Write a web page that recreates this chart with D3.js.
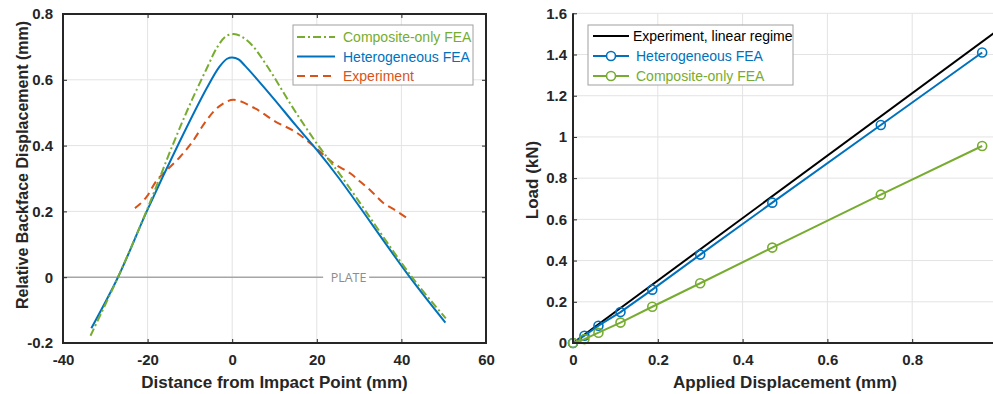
<!DOCTYPE html>
<html lang="en">
<head>
<meta charset="UTF-8">
<title>Backface displacement and load</title>
<script src="https://d3js.org/d3.v7.min.js"></script>
<style>
    body { margin: 0; background: #fff; }
    svg { display: block; font-family: "Liberation Sans", Arial, sans-serif; }
    .tick text { font-weight: bold; font-size: 15px; fill: #262626; }
    .tick line { stroke: #262626; stroke-width: 1; }
    .axis-label { font-weight: bold; font-size: 17px; fill: #262626; }
    .legend text { font-size: 14px; }
</style>
</head>
<body>
<svg width="993" height="394"></svg>
<script>
    // ---- left panel: backface displacement along the plate ----
    const compX = [-33.5, -27, -20.3, -13.9, -10, -6, -3.5, -1.5, 0.3, 2, 4.7, 8.6, 14.1, 19.8, 25.9, 42.5, 50.5];
    const compY = [-0.178, 0, 0.2, 0.407, 0.525, 0.635, 0.7, 0.732, 0.739, 0.733, 0.705, 0.635, 0.52, 0.41, 0.305, 0, -0.125];

    const heteroX = [-33.3, -27, -20.2, -12.5, -6, -3, -1.2, 0, 1.5, 3, 6, 10, 15, 20, 25.3, 42, 50.4];
    const heteroY = [-0.155, 0, 0.2, 0.41, 0.575, 0.64, 0.664, 0.668, 0.662, 0.643, 0.6, 0.54, 0.462, 0.387, 0.3, 0, -0.138];

    const expX = [-23, -22, -20.2, -17.8, -15.4, -12.3, -9.5, -6, -3, 0.3, 5.4, 10.2, 14.9, 19.4, 24, 27.9, 30.3, 33, 35.8, 38.5, 41.5];
    const expY = [0.21, 0.22, 0.245, 0.295, 0.326, 0.366, 0.41, 0.478, 0.52, 0.539, 0.513, 0.473, 0.442, 0.397, 0.346, 0.316, 0.29, 0.26, 0.225, 0.204, 0.178];

    const distTicks = [-40, -20, 0, 20, 40, 60];
    const backTicks = [-0.2, 0, 0.2, 0.4, 0.6, 0.8];

    // ---- right panel: load vs applied displacement ----
    const appliedDisp = [0, 0.027, 0.060, 0.112, 0.187, 0.300, 0.470, 0.726, 0.965];
    const heteroLoad = [0, 0.035, 0.084, 0.150, 0.259, 0.429, 0.681, 1.058, 1.41];
    const compLoad = [0, 0.019, 0.050, 0.099, 0.176, 0.290, 0.463, 0.720, 0.956];
    const linDisp = [0, 1];
    const linLoad = [0, 1.515];

    const appliedTicks = [0, 0.2, 0.4, 0.6, 0.8];
    const loadTicks = [0, 0.2, 0.4, 0.6, 0.8, 1, 1.2, 1.4, 1.6];

    const blue = "#0072BD", green = "#77AC30", orange = "#D95319";
    const gridColor = "#e3e3e3";

    let svg = d3.select("svg");
    const fmt = d => String(d);
    const zip = (a, b) => a.map((v, i) => [v, b[i]]);

    // ================= LEFT =================
    let xL = d3.scaleLinear().domain([-40, 60]).range([63, 486]);
    let yL = d3.scaleLinear().domain([-0.2, 0.8]).range([343, 14]);

    let gL = svg.append("g");

    gL.append("g").selectAll("line")
        .data(distTicks.slice(1, -1))
        .join("line")
        .attr("x1", d => xL(d)).attr("x2", d => xL(d))
        .attr("y1", yL(-0.2)).attr("y2", yL(0.8))
        .attr("stroke", gridColor);
    gL.append("g").selectAll("line")
        .data(backTicks.filter(d => d !== 0))
        .join("line")
        .attr("x1", xL(-40)).attr("x2", xL(60))
        .attr("y1", d => yL(d)).attr("y2", d => yL(d))
        .attr("stroke", gridColor);

    // plate reference line with label
    gL.append("line")
        .attr("x1", xL(-40)).attr("x2", xL(60))
        .attr("y1", yL(0)).attr("y2", yL(0))
        .attr("stroke", "#a6a6a6").attr("stroke-width", 1.5);
    gL.append("rect")
        .attr("x", xL(21.5)).attr("y", yL(0) - 8)
        .attr("width", 46).attr("height", 16)
        .attr("fill", "#fff");
    gL.append("text")
        .attr("x", xL(27.5)).attr("y", yL(0) + 4.5)
        .attr("text-anchor", "middle")
        .style("font-family", "'Open Sans', 'Noto Sans', sans-serif")
        .style("font-size", "12.5px")
        .attr("fill", "#8c8c8c")
        .text("PLATE");

    let lineL = d3.line().x(d => xL(d[0])).y(d => yL(d[1])).curve(d3.curveCatmullRom.alpha(0.5));

    gL.append("path").datum(zip(expX, expY))
        .attr("d", lineL).attr("fill", "none")
        .attr("stroke", orange).attr("stroke-width", 2)
        .attr("stroke-dasharray", "8,5");
    gL.append("path").datum(zip(heteroX, heteroY))
        .attr("d", lineL).attr("fill", "none")
        .attr("stroke", blue).attr("stroke-width", 2);
    gL.append("path").datum(zip(compX, compY))
        .attr("d", lineL).attr("fill", "none")
        .attr("stroke", green).attr("stroke-width", 2)
        .attr("stroke-dasharray", "8,3,2,3");

    // axes with inward ticks on all four sides
    gL.append("g").attr("transform", "translate(0,343)")
        .call(d3.axisBottom(xL).tickValues(distTicks).tickSize(-4).tickPadding(11).tickFormat(fmt))
        .call(g => g.select(".domain").remove());
    gL.append("g").attr("transform", "translate(0,14)")
        .call(d3.axisTop(xL).tickValues(distTicks).tickSize(-4).tickFormat(""))
        .call(g => g.select(".domain").remove());
    gL.append("g").attr("transform", "translate(63,0)")
        .call(d3.axisLeft(yL).tickValues(backTicks).tickSize(-4).tickPadding(10).tickFormat(fmt))
        .call(g => g.select(".domain").remove());
    gL.append("g").attr("transform", "translate(486,0)")
        .call(d3.axisRight(yL).tickValues(backTicks).tickSize(-4).tickFormat(""))
        .call(g => g.select(".domain").remove());

    gL.append("rect")
        .attr("x", 63).attr("y", 14).attr("width", 423).attr("height", 329)
        .attr("fill", "none").attr("stroke", "#262626").attr("stroke-width", 2);

    gL.append("text").attr("class", "axis-label")
        .attr("x", xL(10)).attr("y", 388)
        .attr("text-anchor", "middle")
        .text("Distance from Impact Point (mm)");
    gL.append("text").attr("class", "axis-label")
        .attr("transform", "translate(28,165) rotate(-90)")
        .attr("text-anchor", "middle")
        .style("font-size", "16px")
        .text("Relative Backface Displacement (mm)");

    // legend
    const legL = [
        { label: "Composite-only FEA", color: green, dash: "8,3,2,3" },
        { label: "Heterogeneous FEA", color: blue, dash: null },
        { label: "Experiment", color: orange, dash: "8,5" }
    ];
    let lgL = gL.append("g").attr("class", "legend");
    lgL.append("rect")
        .attr("x", 293).attr("y", 25).attr("width", 180).attr("height", 60)
        .attr("fill", "#fff").attr("stroke", "#a0a0a0");
    legL.forEach((d, i) => {
        let yy = 37 + i * 19.5;
        lgL.append("line")
            .attr("x1", 297).attr("x2", 335).attr("y1", yy).attr("y2", yy)
            .attr("stroke", d.color).attr("stroke-width", 2)
            .attr("stroke-dasharray", d.dash);
        lgL.append("text")
            .attr("x", 343).attr("y", yy + 5)
            .attr("fill", d.color)
            .text(d.label);
    });

    // ================= RIGHT =================
    let xR = d3.scaleLinear().domain([0, 1]).range([573, 997]);
    let yR = d3.scaleLinear().domain([0, 1.6]).range([343, 13.3]);

    let gR = svg.append("g");

    gR.append("g").selectAll("line")
        .data(appliedTicks.slice(1).concat([1]))
        .join("line")
        .attr("x1", d => xR(d)).attr("x2", d => xR(d))
        .attr("y1", yR(0)).attr("y2", yR(1.6))
        .attr("stroke", gridColor);
    gR.append("g").selectAll("line")
        .data(loadTicks.slice(1))
        .join("line")
        .attr("x1", xR(0)).attr("x2", xR(1))
        .attr("y1", d => yR(d)).attr("y2", d => yR(d))
        .attr("stroke", gridColor);

    let lineR = d3.line().x(d => xR(d[0])).y(d => yR(d[1]));

    gR.append("path").datum(zip(linDisp, linLoad))
        .attr("d", lineR).attr("fill", "none")
        .attr("stroke", "#000").attr("stroke-width", 2);

    const seriesR = [
        { label: "Heterogeneous FEA", color: blue, vals: heteroLoad },
        { label: "Composite-only FEA", color: green, vals: compLoad }
    ];
    seriesR.forEach(s => {
        let pts = zip(appliedDisp, s.vals);
        gR.append("path").datum(pts)
            .attr("d", lineR).attr("fill", "none")
            .attr("stroke", s.color).attr("stroke-width", 2);
        gR.append("g").selectAll("circle")
            .data(pts)
            .join("circle")
            .attr("cx", d => xR(d[0])).attr("cy", d => yR(d[1]))
            .attr("r", 4.5)
            .attr("fill", "none").attr("stroke", s.color).attr("stroke-width", 1.6);
    });

    gR.append("g").attr("transform", "translate(0,343)")
        .call(d3.axisBottom(xR).tickValues(appliedTicks).tickSize(-4).tickPadding(11).tickFormat(fmt))
        .call(g => g.select(".domain").remove());
    gR.append("g").attr("transform", "translate(573,0)")
        .call(d3.axisLeft(yR).tickValues(loadTicks).tickSize(-4).tickPadding(6).tickFormat(fmt))
        .call(g => g.select(".domain").remove());

    gR.append("line")
        .attr("x1", 573).attr("x2", 997).attr("y1", 343).attr("y2", 343)
        .attr("stroke", "#262626").attr("stroke-width", 2);
    gR.append("line")
        .attr("x1", 573).attr("x2", 573).attr("y1", 13.3).attr("y2", 344)
        .attr("stroke", "#262626").attr("stroke-width", 2);

    gR.append("text").attr("class", "axis-label")
        .attr("x", xR(0.5)).attr("y", 388)
        .attr("text-anchor", "middle")
        .text("Applied Displacement (mm)");
    gR.append("text").attr("class", "axis-label")
        .attr("transform", "translate(538,180) rotate(-90)")
        .attr("text-anchor", "middle")
        .text("Load (kN)");

    const legR = [
        { label: "Experiment, linear regime", color: "#000", marker: false, text: "#000" },
        { label: "Heterogeneous FEA", color: blue, marker: true, text: blue },
        { label: "Composite-only FEA", color: green, marker: true, text: green }
    ];
    let lgR = gR.append("g").attr("class", "legend");
    lgR.append("rect")
        .attr("x", 588).attr("y", 25).attr("width", 205).attr("height", 60)
        .attr("fill", "#fff").attr("stroke", "#a0a0a0");
    legR.forEach((d, i) => {
        let yy = 36 + i * 20;
        lgR.append("line")
            .attr("x1", 593).attr("x2", 629).attr("y1", yy).attr("y2", yy)
            .attr("stroke", d.color).attr("stroke-width", 2);
        if (d.marker) {
            lgR.append("circle")
                .attr("cx", 611).attr("cy", yy).attr("r", 4.5)
                .attr("fill", "#fff").attr("stroke", d.color).attr("stroke-width", 1.6);
        }
        lgR.append("text")
            .attr("x", i === 0 ? 633 : 636).attr("y", yy + 5)
            .attr("fill", d.text)
            .text(d.label);
    });
</script>
</body>
</html>
